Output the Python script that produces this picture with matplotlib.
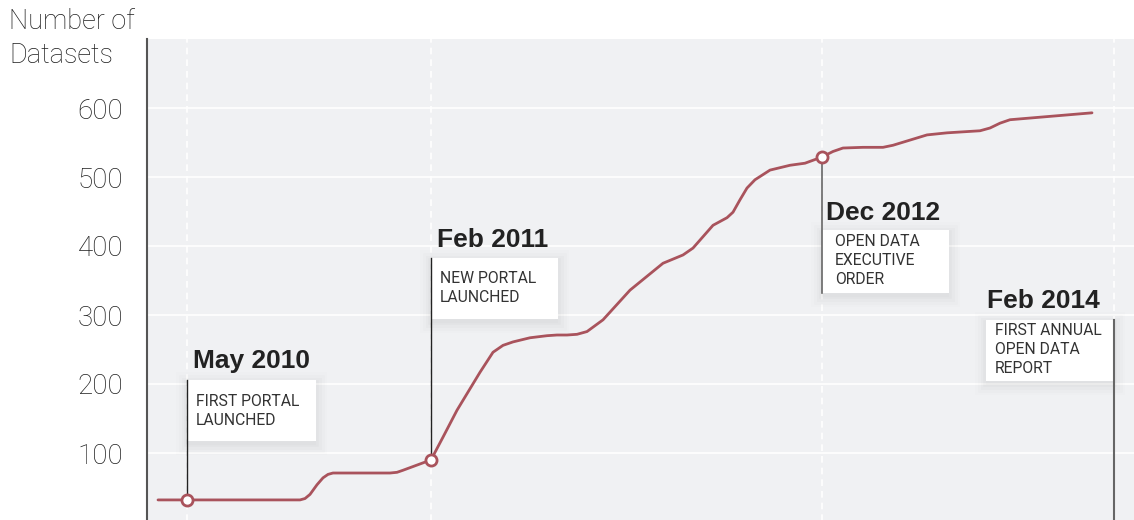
import matplotlib
matplotlib.use("Agg")
import matplotlib.pyplot as plt
from matplotlib.patches import Rectangle
import matplotlib.patheffects as pe

# ---- data (x = position along the time axis, arbitrary units; y = number of datasets)
x_vals = [11, 40, 153, 158, 163, 170, 176, 181, 186, 243, 250, 256, 284, 296, 310,
          333, 346, 356, 366, 383, 400, 410, 420, 430, 440, 456, 483, 516, 536,
          546, 566, 580, 586, 593, 600, 608, 623, 643, 658, 675, 686, 696, 716,
          736, 746, 780, 800, 833, 843, 853, 863, 945]
datasets = [32, 32, 32, 34, 40, 54, 64, 69, 71, 71, 72, 75, 90, 123, 162,
            217, 246, 256, 261, 267, 270, 271, 271, 272, 276, 293, 336, 375, 387,
            397, 430, 441, 449, 467, 484, 496, 510, 517, 520, 529, 537, 542, 543,
            543, 546, 561, 564, 567, 571, 578, 583, 593]

event_x = [40, 284, 675, 967]
event_y = [32, 90, 529, None]
event_titles = ["May 2010", "Feb 2011", "Dec 2012", "Feb 2014"]
event_texts = ["FIRST PORTAL\nLAUNCHED", "NEW PORTAL\nLAUNCHED",
               "OPEN DATA\nEXECUTIVE\nORDER", "FIRST ANNUAL\nOPEN DATA\nREPORT"]
y_ticks = [100, 200, 300, 400, 500, 600]
y_label = "Number of\nDatasets"

# ---- layout (box left/right, box top/bottom, title pos, text pos) in data units
layout = [
    dict(box=(40, 169, 206, 117), title=(46, 233), text=(49, 186)),
    dict(box=(284, 411, 383, 294), title=(290, 409), text=(293, 364)),
    dict(box=(675, 802, 423, 332), title=(679, 448), text=(688, 418)),
    dict(box=(839, 967, 293, 204), title=(840, 320), text=(848, 288)),
]

LINE = "#a9535c"
BG = "#f0f1f3"
FONT = ["Roboto", "Liberation Sans", "DejaVu Sans"]

fig = plt.figure(figsize=(11.34, 5.2), dpi=100)
ax = fig.add_axes([147 / 1134, -2 / 520, 987 / 1134, 483 / 520])
ax.set_facecolor(BG)
ax.set_xlim(0, 987)
ax.set_ylim(0, 700)

for t in y_ticks:
    ax.axhline(t, color="white", lw=1.2, zorder=1)
for ex in event_x:
    ax.axvline(ex, color="white", lw=1.2, ls=(0, (4, 3)), zorder=1)

for s in ["top", "right", "bottom"]:
    ax.spines[s].set_visible(False)
ax.spines["left"].set_color("#555555")
ax.spines["left"].set_linewidth(1.5)
ax.set_xticks([])
ax.set_yticks(y_ticks)
ax.tick_params(axis="y", length=0, pad=17)
for lab in ax.get_yticklabels():
    lab.set_fontfamily(FONT)
    lab.set_fontweight("light")
    lab.set_fontsize(20)
    lab.set_color("#1e1e1e")

fig.text(9 / 1134, 1 - 8 / 520, y_label, ha="left", va="top", fontsize=19.5,
         family=FONT, fontweight="light", color="#1e1e1e", linespacing=1.32)

ax.plot(x_vals, datasets, color=LINE, lw=2.0, zorder=3, solid_capstyle="round",
        solid_joinstyle="round")

shadow = [pe.SimplePatchShadow(offset=(0, -3), shadow_rgbFace="k", alpha=0.012, rho=1)]
for w, a in [(16, 0.008), (12, 0.012), (8, 0.016), (4, 0.02)]:
    shadow.append(pe.Stroke(linewidth=w, foreground="k", alpha=a, offset=(0, -2)))
shadow.append(pe.Normal())

for ex, ey, title, txt, lay in zip(event_x, event_y, event_titles, event_texts, layout):
    x0, x1, ytop, ybot = lay["box"]
    rect = Rectangle((x0, ybot), x1 - x0, ytop - ybot, facecolor="white",
                     edgecolor="none", zorder=4)
    rect.set_path_effects(shadow)
    ax.add_patch(rect)
    # connector
    if ey is None:
        ax.plot([ex, ex], [0, ytop], color="#666666", lw=1.5, zorder=5)
    elif ey < ybot:
        ax.plot([ex, ex], [ey, ytop], color="#222222", lw=1.0, zorder=5)
    else:
        ax.plot([ex, ex], [ybot, ey], color="#666666", lw=1.2, zorder=5)
    ax.text(lay["title"][0], lay["title"][1], title, fontsize=19, fontweight="bold",
            family=["Liberation Sans", "DejaVu Sans"], color="#222222",
            ha="left", va="center", zorder=6)
    ax.text(lay["text"][0], lay["text"][1], txt, fontsize=11.3, family=FONT,
            fontweight="normal", color="#333333", ha="left", va="top",
            linespacing=1.33, zorder=6)
    if ey is not None:
        ax.plot([ex], [ey], marker="o", ms=8, mfc="white", mec=LINE, mew=2.0,
                zorder=7)

fig.savefig("out.png", dpi=100, facecolor="white")
